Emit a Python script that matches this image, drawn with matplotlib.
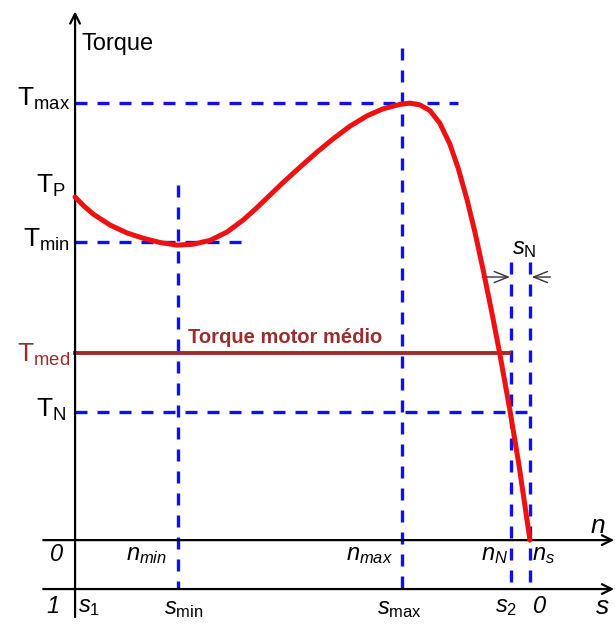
import numpy as np
import matplotlib
matplotlib.use("Agg")
import matplotlib.pyplot as plt

plt.rcParams["font.family"] = ["Liberation Sans", "DejaVu Sans"]
plt.rcParams["mathtext.fontset"] = "custom"
plt.rcParams["mathtext.rm"] = "Liberation Sans"
plt.rcParams["mathtext.it"] = "Liberation Sans:italic"

# speed in units of synchronous speed, torque in units of T_max
speed = [0.0, 0.020, 0.040, 0.077, 0.114, 0.149, 0.187, 0.224, 0.259, 0.297,
         0.334, 0.369, 0.396, 0.422, 0.457, 0.495, 0.532, 0.567, 0.604, 0.642,
         0.677, 0.714, 0.736, 0.758, 0.780, 0.802, 0.824, 0.842, 0.862, 0.879,
         0.897, 0.916, 0.934, 0.956, 0.976, 1.0]
torque = [0.785, 0.764, 0.746, 0.721, 0.703, 0.691, 0.681, 0.675, 0.677, 0.686,
          0.705, 0.732, 0.757, 0.783, 0.818, 0.854, 0.888, 0.918, 0.947, 0.971,
          0.987, 0.997, 1.0, 0.996, 0.983, 0.954, 0.906, 0.852, 0.778, 0.705,
          0.619, 0.522, 0.425, 0.297, 0.171, 0.0]

# characteristic torques
T_max = 1.0
T_P = 0.785
T_min = 0.682
T_med = 0.428
T_N = 0.293

# characteristic speeds
n_min = 0.227
n_max = 0.718
n_N = 0.958
n_s = 1.0

BLUE = "#1010ee"
RED = "#ee1111"
BROWN = "#9a2e2e"

fig = plt.figure(figsize=(6.15, 6.24), dpi=100)
ax = fig.add_axes([0, 0, 1, 1])
ax.set_xlim(-0.165, 1.187)
ax.set_ylim(-0.192, 1.236)
ax.axis("off")

y_n = 0.0      # speed axis
y_s = -0.112   # slip axis
x_left = -0.07

dash = dict(color=BLUE, lw=2.4, ls=(0, (3.6, 3.0)), zorder=2)

# horizontal reference lines
ax.plot([0, 0.842], [T_max, T_max], **dash)
ax.plot([0, 0.378], [T_min, T_min], **dash)
ax.plot([0, 1.015], [T_N, T_N], **dash)

# vertical reference lines down to the slip axis
ax.plot([n_max, n_max], [1.126, y_s], **dash)
ax.plot([n_min, n_min], [0.812, y_s], **dash)
ax.plot([n_N, n_N], [0.636, y_s], **dash)
ax.plot([n_s, n_s], [0.636, y_s], **dash)

# mean motor torque
ax.plot([0, n_N - 0.004], [T_med, T_med], color=BROWN, lw=2.8, zorder=3)
ax.text(0.248, T_med + 0.014, "Torque motor médio", color=BROWN,
        fontsize=14.5, fontweight="bold", ha="left", va="bottom")

# torque-speed curve
ax.plot(speed, torque, color=RED, lw=3.6, solid_capstyle="round",
        solid_joinstyle="round", zorder=4)

# axes with arrows
arrow = dict(arrowstyle="->,head_length=0.7,head_width=0.35", color="black", lw=1.6,
             shrinkA=0, shrinkB=0)
ax.annotate("", xy=(0, 1.21), xytext=(0, -0.176), arrowprops=arrow)
ax.annotate("", xy=(1.185, y_n), xytext=(x_left, y_n), arrowprops=arrow)
ax.annotate("", xy=(1.185, y_s), xytext=(x_left, y_s), arrowprops=arrow)

# slip s_N markers
small = dict(arrowstyle="->,head_length=1.0,head_width=0.4", color="#333333", lw=1.0,
             shrinkA=0, shrinkB=0)
ax.annotate("", xy=(n_N - 0.002, 0.602), xytext=(0.895, 0.602), arrowprops=small)
ax.annotate("", xy=(n_s + 0.004, 0.602), xytext=(1.045, 0.602), arrowprops=small)
ax.text(0.96, 0.64, r"$\mathit{s}_\mathregular{N}$", fontsize=17, ha="left", va="bottom")

ax.text(0.014, 1.135, "Torque", fontsize=17, ha="left", va="center")

# torque labels
tlab = dict(fontsize=19, ha="right", va="center")
ax.text(-0.012, T_max + 0.01, r"$\mathregular{T_{max}}$", **tlab)
ax.text(-0.02, T_P + 0.025, r"$\mathregular{T_P}$", **tlab)
ax.text(-0.012, T_min + 0.005, r"$\mathregular{T_{min}}$", **tlab)
ax.text(-0.012, T_med - 0.005, r"$\mathregular{T_{med}}$", color=BROWN, **tlab)
ax.text(-0.02, T_N + 0.005, r"$\mathregular{T_N}$", **tlab)

# speed axis labels
lab = dict(fontsize=17, ha="center", va="center")
y1 = -0.033
ax.text(-0.04, y1, "0", style="italic", **lab)
ax.text(n_min - 0.07, y1, r"$\mathit{n_{min}}$", **lab)
ax.text(n_max - 0.07, y1, r"$\mathit{n_{max}}$", **lab)
ax.text(n_N - 0.035, y1, r"$\mathit{n_N}$", **lab)
ax.text(n_s + 0.03, y1, r"$\mathit{n_s}$", **lab)
ax.text(1.15, 0.033, r"$\mathit{n}$", fontsize=19, ha="center", va="center")

# slip axis labels
y2 = -0.152
ax.text(-0.048, y2, "1", style="italic", **lab)
ax.text(0.03, y2, r"$\mathit{s}_\mathregular{1}$", **lab)
ax.text(n_min + 0.012, y2 - 0.005, r"$\mathit{s}_\mathregular{min}$", **lab)
ax.text(n_max - 0.005, y2 - 0.005, r"$\mathit{s}_\mathregular{max}$", **lab)
ax.text(n_N - 0.01, y2, r"$\mathit{s}_\mathregular{2}$", **lab)
ax.text(n_s + 0.02, y2, "0", style="italic", **lab)
ax.text(1.16, y2, r"$\mathit{s}$", fontsize=19, ha="center", va="center")

fig.savefig("out.png", dpi=100)
